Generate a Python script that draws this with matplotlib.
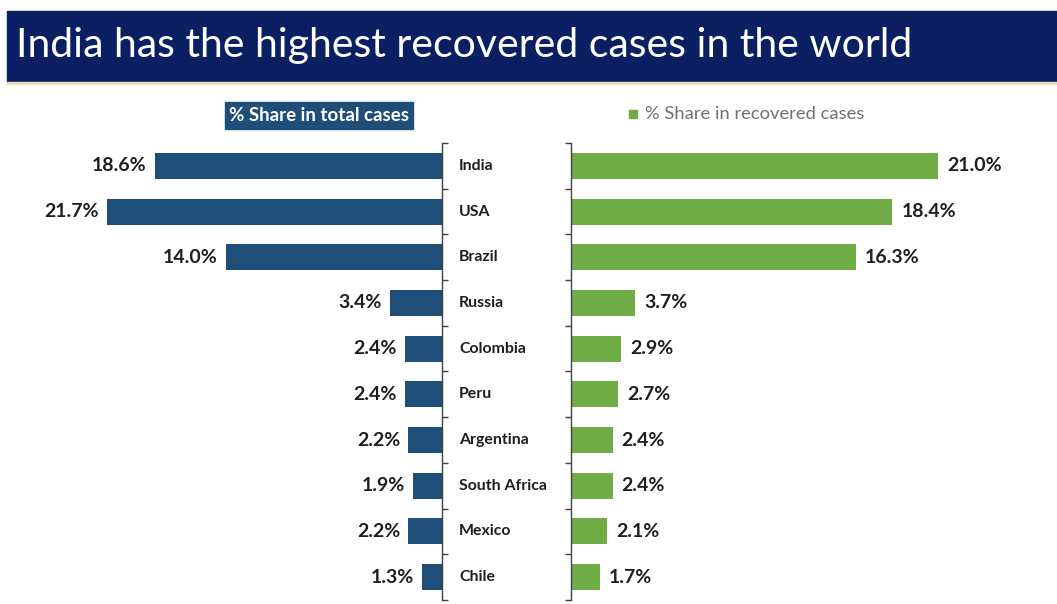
import numpy as np
import matplotlib
matplotlib.use('Agg')
import matplotlib.pyplot as plt
from matplotlib.patches import Rectangle

# Data
countries = ['India', 'USA', 'Brazil', 'Russia', 'Colombia', 'Peru',
             'Argentina', 'South Africa', 'Mexico', 'Chile']
share_total = [18.6, 21.7, 14.0, 3.4, 2.4, 2.4, 2.2, 1.9, 2.2, 1.3]
share_recovered = [21.0, 18.4, 16.3, 3.7, 2.9, 2.7, 2.4, 2.4, 2.1, 1.7]

title = 'India has the highest recovered cases in the world'
label_total = '% Share in total cases'
label_recovered = '% Share in recovered cases'

# Colours
navy = '#1f4e79'
green = '#70ad47'
banner = '#0b1f63'
text_dark = '#1e1e1e'
spine_col = '#404040'

W, H = 1057, 604
fig = plt.figure(figsize=(W / 100, H / 100), dpi=100)
fig.patch.set_facecolor('white')


def fx(px):
    return px / W


def fy(py):
    # pixel from top -> figure fraction from bottom
    return 1 - py / H


# Title banner
fig.patches.append(Rectangle((fx(7), fy(82)), fx(W - 7), (82 - 11) / H,
                             transform=fig.transFigure, color=banner, zorder=0))
fig.patches.append(Rectangle((fx(7), fy(84)), fx(W - 7), 2 / H,
                             transform=fig.transFigure, color='#e8dfc0', zorder=0))
fig.text(fx(16), fy(46), title, color='white', fontsize=29.5,
         family=['Lato', 'DejaVu Sans'], ha='left', va='center')

y = np.arange(len(countries))
ax_top, ax_bot = 143, 600

# Left chart (total cases)
ax_l = fig.add_axes([fx(20), fy(ax_bot), fx(442 - 20), (ax_bot - ax_top) / H])
ax_l.barh(y, share_total, height=0.57, color=navy)
ax_l.set_xlim((442 - 20) / 15.44, 0)
ax_l.set_ylim(9.5, -0.5)

# Right chart (recovered cases)
ax_r = fig.add_axes([fx(570.5), fy(ax_bot), fx(1040 - 570.5), (ax_bot - ax_top) / H])
ax_r.barh(y, share_recovered, height=0.57, color=green)
ax_r.set_xlim(0, (1040 - 570.5) / 17.5)
ax_r.set_ylim(9.5, -0.5)

for ax, side in ((ax_l, 'right'), (ax_r, 'left')):
    ax.set_facecolor('none')
    for s in ax.spines:
        ax.spines[s].set_visible(s == side)
    ax.spines[side].set_color(spine_col)
    ax.spines[side].set_linewidth(1.0)
    ax.set_xticks([])
    ax.set_yticks([])
    ax.set_yticks(np.arange(-0.5, 10, 1), minor=True)
    ax.yaxis.set_ticks_position(side)
    ax.tick_params(axis='y', which='minor', direction='out', length=4,
                   width=1, color=spine_col, labelleft=False, labelright=False)

val_font = dict(family=['Lato', 'DejaVu Sans'], fontweight='bold',
                fontsize=14, color=text_dark, va='center')

for i, v in enumerate(share_total):
    ax_l.annotate(f'{v:.1f}%', xy=(v, i), xytext=(-8, 0),
                  textcoords='offset pixels', ha='right', **val_font)

for i, v in enumerate(share_recovered):
    ax_r.annotate(f'{v:.1f}%', xy=(v, i), xytext=(9, 0),
                  textcoords='offset pixels', ha='left', **val_font)

# Country names between the two charts
for i, name in enumerate(countries):
    ax_l.text((459 - 20) / (442 - 20), i, name, transform=ax_l.get_yaxis_transform(),
              ha='left', va='center', fontsize=11.4, fontweight='bold',
              family=['Lato', 'DejaVu Sans'], color=text_dark, clip_on=False)

# Legend labels
fig.patches.append(Rectangle((fx(225), fy(129)), fx(188), 27 / H,
                             transform=fig.transFigure, color=navy, zorder=1))
fig.text(fx(319), fy(115.5), label_total, color='white', fontsize=13.5,
         fontweight='bold', family=['Lato', 'DejaVu Sans'],
         ha='center', va='center', zorder=2)

fig.patches.append(Rectangle((fx(629), fy(118)), fx(8), 8 / H,
                             transform=fig.transFigure, color=green, zorder=1))
fig.text(fx(645), fy(114), label_recovered, color='#707070', fontsize=13.2,
         family=['Lato', 'DejaVu Sans'], ha='left', va='center')

fig.savefig('out.png', dpi=100)
